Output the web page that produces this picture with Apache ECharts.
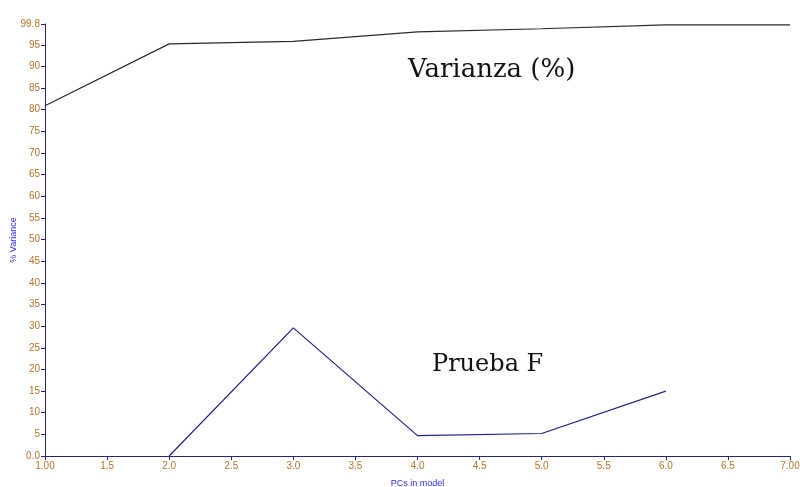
<!DOCTYPE html>
<html><head><meta charset="utf-8">
<script src="https://cdn.jsdelivr.net/npm/echarts@6/dist/echarts.min.js"></script>
<style>html,body{margin:0;padding:0;background:#fff}#c{width:805px;height:487px}</style>
</head><body><div id="c"></div>
<script>
const pcs = [1, 2, 3, 4, 5, 6, 7];
const varianza = [80.9, 95.2, 95.8, 98.0, 98.7, 99.6, 99.6];
const pcsF = [2, 3, 4, 5, 6];
const pruebaF = [0.0, 29.6, 4.7, 5.2, 15.0];
const yName = '% Variance';
const xName = 'PCs in model';
const labelVar = 'Varianza (%)';
const labelF = 'Prueba F';

const chart = echarts.init(document.getElementById('c'));
const tickColor = '#b8742a';
const axisColor = '#262680';
chart.setOption({
  animation: false,
  grid: {left: 45, right: 15, top: 24, bottom: 31, containLabel: false, outerBoundsMode: 'none'},
  xAxis: {
    type: 'value', min: 1, max: 7, interval: 0.5,
    name: xName, nameLocation: 'middle', nameGap: 23, nameMoveOverlap: false,
    nameTextStyle: {color: '#2b2bff', fontSize: 9, fontFamily: 'Liberation Sans'},
    axisLine: {lineStyle: {color: axisColor, width: 1}},
    axisTick: {show: true, length: 4, lineStyle: {color: axisColor}},
    splitLine: {show: false},
    axisLabel: {color: tickColor, fontSize: 10, fontFamily: 'Liberation Sans', margin: 5,
      formatter: v => (v === 1 || v === 7) ? v.toFixed(2) : v.toFixed(1)}
  },
  yAxis: {
    type: 'value', min: 0, max: 99.8, interval: 5,
    name: yName, nameLocation: 'middle', nameGap: 27, nameRotate: 90, nameMoveOverlap: false,
    nameTextStyle: {color: '#2b2bff', fontSize: 9, fontFamily: 'Liberation Sans'},
    axisLine: {show: true, lineStyle: {color: axisColor, width: 1}},
    axisTick: {show: true, length: 4, lineStyle: {color: axisColor}},
    splitLine: {show: false},
    axisLabel: {color: tickColor, fontSize: 10, fontFamily: 'Liberation Sans', margin: 5,
      showMaxLabel: true,
      formatter: v => v === 0 ? '0.0' : (Math.abs(v - 99.8) < 1e-6 ? '99.8' : String(v))}
  },
  series: [
    {type: 'line', data: pcs.map((x, i) => [x, varianza[i]]), symbol: 'none',
      lineStyle: {color: '#2a2a2a', width: 1.2}},
    {type: 'line', data: pcsF.map((x, i) => [x, pruebaF[i]]), symbol: 'none',
      lineStyle: {color: '#1f1f90', width: 1.2}}
  ],
  graphic: [
    {type: 'text', left: 408, top: 57, style: {text: labelVar, font: '26px "DejaVu Serif"', fill: '#111'}},
    {type: 'text', left: 432, top: 353, style: {text: labelF, font: '24px "DejaVu Serif"', fill: '#111'}}
  ]
});
</script></body></html>
